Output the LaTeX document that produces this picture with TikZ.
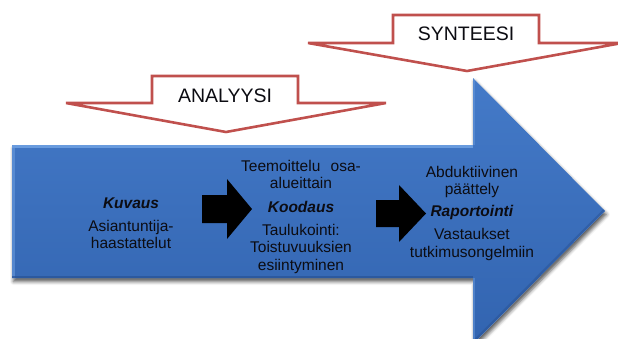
\documentclass[tikz,border=0pt]{standalone}
\usepackage{fontspec}
\setmainfont{Liberation Sans}
\usetikzlibrary{shadows.blur}
\definecolor{calloutred}{RGB}{192,80,77}
\definecolor{bluetop}{RGB}{68,122,200}
\definecolor{bluebottom}{RGB}{50,100,176}
\definecolor{bevellight}{RGB}{105,155,222}
\definecolor{beveldark}{RGB}{40,82,150}
\definecolor{ink}{RGB}{12,12,18}
\begin{document}
\begin{tikzpicture}[x=1pt,y=-1pt,
  callout/.style={draw=calloutred, line width=2.6pt, fill=white, line join=miter},
  calloutlabel/.style={font=\fontsize{19.5}{22}\selectfont, text=ink, inner sep=0pt, anchor=base},
  stagetext/.style={font=\fontsize{15.5}{17.5}\selectfont, text=ink, align=center,
                    text width=150pt, inner sep=0pt, anchor=base},
  blockarrow/.style={fill=black}]
\useasboundingbox (0,0) rectangle (618,338);
\clip (0,0) rectangle (618,338);

% large process arrow
\def\processpath{(12,145) -- (473,145) -- (473,78) -- (605,211) -- (473,344) -- (473,278) -- (12,278) -- cycle}
\fill[white, blur shadow={shadow xshift=1.5pt, shadow yshift=-3.5pt, shadow blur radius=3.5pt, shadow opacity=65}] \processpath;
\shade[top color=bluetop, bottom color=bluebottom] \processpath;
\begin{scope}
  \clip \processpath;
  \draw[bevellight, line width=5pt] (10,145) -- (473,145);
  \draw[bevellight, line width=5pt, opacity=0.6] (12,145) -- (12,278);
  \draw[beveldark, line width=5pt, opacity=0.7] (12,278) -- (473,278);
  \draw[beveldark, line width=5pt, opacity=0.5] (473,344) -- (605,211);
  \draw[bevellight, line width=4pt, opacity=0.5] (473,78) -- (473,145);
  \draw[bevellight, line width=4pt, opacity=0.5] (473,278) -- (473,344);
\end{scope}

% stage texts
\node[stagetext] (kuvaus) at (131,208)
  {\textbf{\textit{Kuvaus}}\\[5.5pt]Asiantuntija-\\haastattelut};
\node[stagetext] (koodaus) at (301,171)
  {Teemoittelu\ \ osa-\\alueittain\\[6pt]\textbf{\textit{Koodaus}}\\[5.5pt]Taulukointi:\\Toistuvuuksien\\esiintyminen};
\node[stagetext] (raportointi) at (472,177)
  {Abduktiivinen\\päättely\\[4.5pt]\textbf{\textit{Raportointi}}\\[5.5pt]Vastaukset\\tutkimusongelmiin};

% black block arrows between the stages
\fill[blockarrow] (202,195) -- (227,195) -- (227,179) -- (252,209) -- (227,239) -- (227,223) -- (202,223) -- cycle;
\fill[blockarrow] (376,200) -- (399,200) -- (399,185) -- (426,213.5) -- (399,242) -- (399,227) -- (376,227) -- cycle;

% callouts
\draw[callout] (152,76) -- (298,76) -- (298,103) -- (386,103) -- (226,132) -- (66,103) -- (152,103) -- cycle;
\node[calloutlabel] (analyysi) at (225,102) {ANALYYSI};

\draw[callout] (393,15) -- (539,15) -- (539,43) -- (622,43) -- (467,71) -- (308,43) -- (393,43) -- cycle;
\node[calloutlabel] (synteesi) at (466,40.5) {SYNTEESI};
\end{tikzpicture}
\end{document}
